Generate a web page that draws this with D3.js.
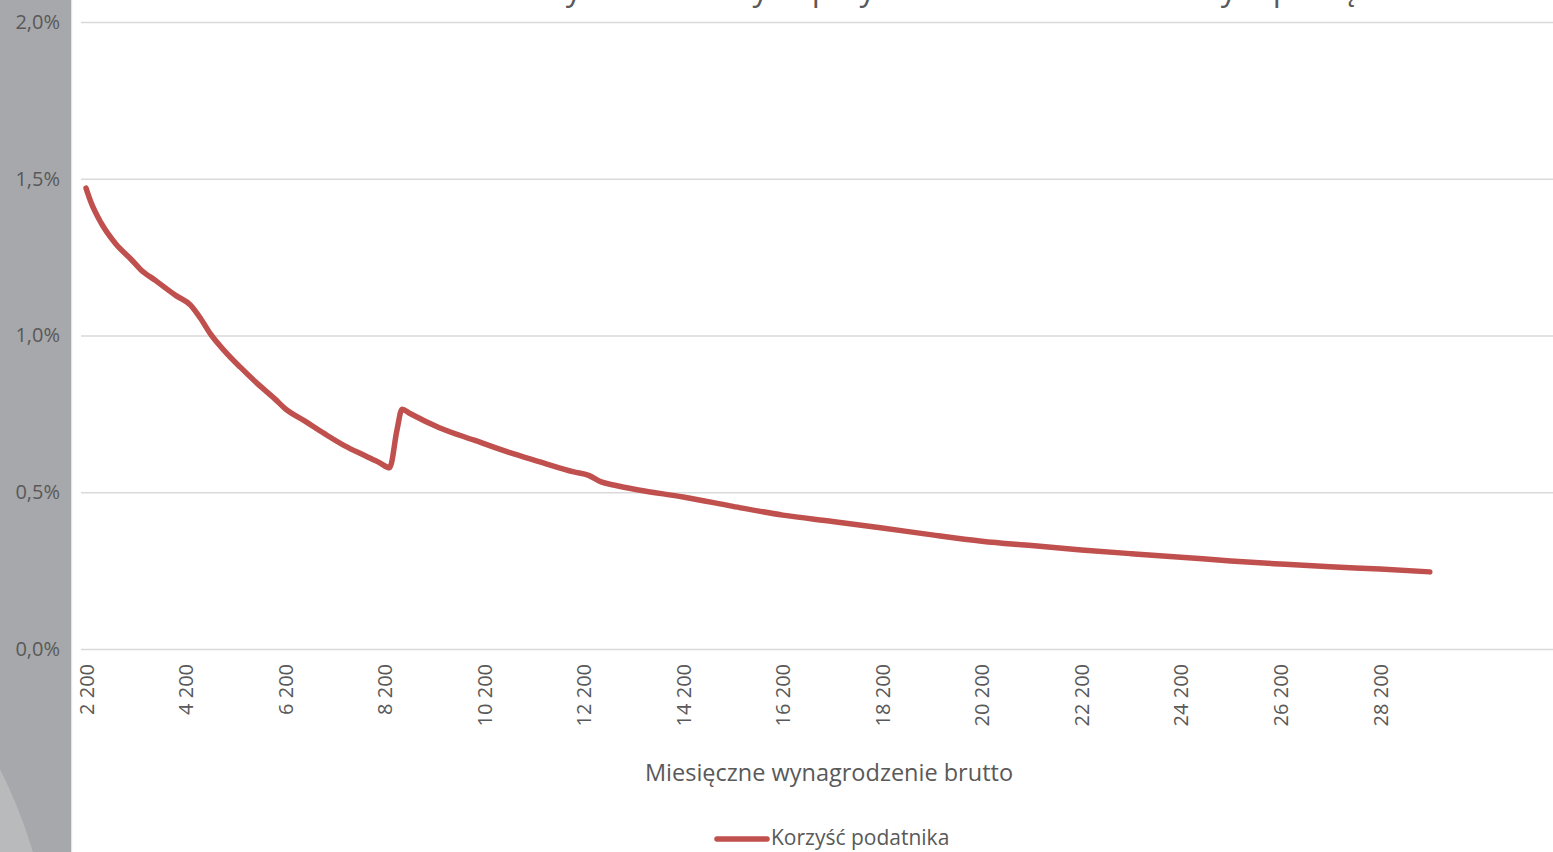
<!DOCTYPE html>
<html lang="pl">
<head>
<meta charset="utf-8">
<script src="https://cdn.jsdelivr.net/npm/d3@7/dist/d3.min.js"></script>
<style>
  html, body { margin: 0; padding: 0; background: #ffffff; overflow: hidden; }
  svg { display: block; }
  text { font-family: "Open Sans", "Liberation Sans", sans-serif; fill: #595959; }
</style>
</head>
<body>
<svg id="chart" width="1553" height="852"></svg>
<script>
// Gross monthly salary (PLN) at which the benefit was sampled
const salary = [
  2200, 2300, 2500, 2800, 3100, 3300, 3600, 4000, 4300, 4500,
  4700, 5000, 5300, 5600, 6000, 6200, 6600, 7000, 7400, 7800,
  8100, 8300, 8450, 8550, 8700, 9300, 10000, 10700, 11300, 12000,
  12300, 12550, 12800, 13300, 14200, 15200, 16200, 17200, 18200, 19200,
  20200, 21200, 22200, 23200, 24200, 25200, 26200, 27200, 28200, 29200
];
// Taxpayer's benefit, percent of gross salary
const benefit = [
  1.470, 1.425, 1.360, 1.292, 1.244, 1.210, 1.175, 1.128, 1.097, 1.055,
  1.005, 0.948, 0.899, 0.853, 0.797, 0.767, 0.727, 0.686, 0.648, 0.617,
  0.594, 0.578, 0.700, 0.765, 0.752, 0.706, 0.666, 0.627, 0.598, 0.565,
  0.554, 0.533, 0.523, 0.507, 0.485, 0.455, 0.427, 0.407, 0.386, 0.364,
  0.344, 0.330, 0.316, 0.304, 0.293, 0.281, 0.271, 0.262, 0.255, 0.246
];
// Axis ticks
const xTicks = [2200, 4200, 6200, 8200, 10200, 12200, 14200, 16200, 18200, 20200, 22200, 24200, 26200, 28200];
const yTicks = [0, 0.5, 1.0, 1.5, 2.0];

const titleText = "Kwota zysku dla danych przychodów brutto z umowy o pracę";
const xTitle = "Miesięczne wynagrodzenie brutto";
const seriesName = "Korzyść podatnika";

const svg = d3.select("#chart");
const W = 1553, H = 852;

// Grey side band with a lighter circular shape at the bottom
const stripW = 71;
svg.append("defs").append("clipPath").attr("id", "stripClip")
  .append("rect").attr("x", 0).attr("y", 0).attr("width", stripW).attr("height", H);
svg.append("rect").attr("x", 0).attr("y", 0).attr("width", stripW).attr("height", H).attr("fill", "#a7a8ab");
svg.append("circle").attr("cx", -449).attr("cy", 996).attr("r", 503)
  .attr("fill", "#b9babc").attr("clip-path", "url(#stripClip)");
svg.append("rect").attr("x", stripW).attr("y", 0).attr("width", 1.2).attr("height", H).attr("fill", "#e4e4e5");

// Scales
const x = d3.scaleLinear().domain([2200, 28200]).range([86, 1380]);
const y = d3.scaleLinear().domain([0, 2.0]).range([649, 22]);
const fmtPct = v => d3.format(".1f")(v).replace(".", ",") + "%";

// Horizontal gridlines and y-axis labels
const yAxis = d3.axisLeft(y).tickValues(yTicks).tickSize(-(W - 81)).tickFormat(fmtPct).tickPadding(21);
const gy = svg.append("g").attr("transform", "translate(81,0)").call(yAxis);
gy.select(".domain").remove();
gy.selectAll(".tick line").attr("stroke", "#d9d9d9").attr("stroke-width", 1.6);
gy.selectAll(".tick text").attr("font-size", 20).attr("fill", "#595959").attr("dy", "0.32em");

// X-axis labels, rotated
const xAxis = d3.axisBottom(x).tickValues(xTicks).tickSize(0)
  .tickFormat(v => d3.format(",")(v).replace(/,/g, " "));
const gx = svg.append("g").attr("transform", "translate(0,649)").call(xAxis);
gx.select(".domain").remove();
gx.selectAll(".tick text")
  .attr("font-size", 20).attr("fill", "#595959")
  .attr("transform", "rotate(-90)")
  .attr("text-anchor", "end")
  .attr("x", -15).attr("y", 0).attr("dy", "0.35em");

// Benefit line
const line = d3.line().x((d, i) => x(salary[i])).y(d => y(d)).curve(d3.curveMonotoneX);
svg.append("path").datum(benefit)
  .attr("d", line)
  .attr("fill", "none")
  .attr("stroke", "#c0504d")
  .attr("stroke-width", 5.5)
  .attr("stroke-linejoin", "round")
  .attr("stroke-linecap", "round");

// Title along the top edge of the frame
svg.append("text").attr("x", 903).attr("y", 0)
  .attr("text-anchor", "middle").attr("font-size", 32).attr("fill", "#595959")
  .text(titleText);

// Axis title
svg.append("text").attr("x", 829).attr("y", 781)
  .attr("text-anchor", "middle").attr("font-size", 23.5)
  .text(xTitle);

// Legend
svg.append("line").attr("x1", 717).attr("x2", 767).attr("y1", 839).attr("y2", 839)
  .attr("stroke", "#c0504d").attr("stroke-width", 5.5).attr("stroke-linecap", "round");
svg.append("text").attr("x", 771).attr("y", 845)
  .attr("font-size", 21)
  .text(seriesName);
</script>
</body>
</html>
